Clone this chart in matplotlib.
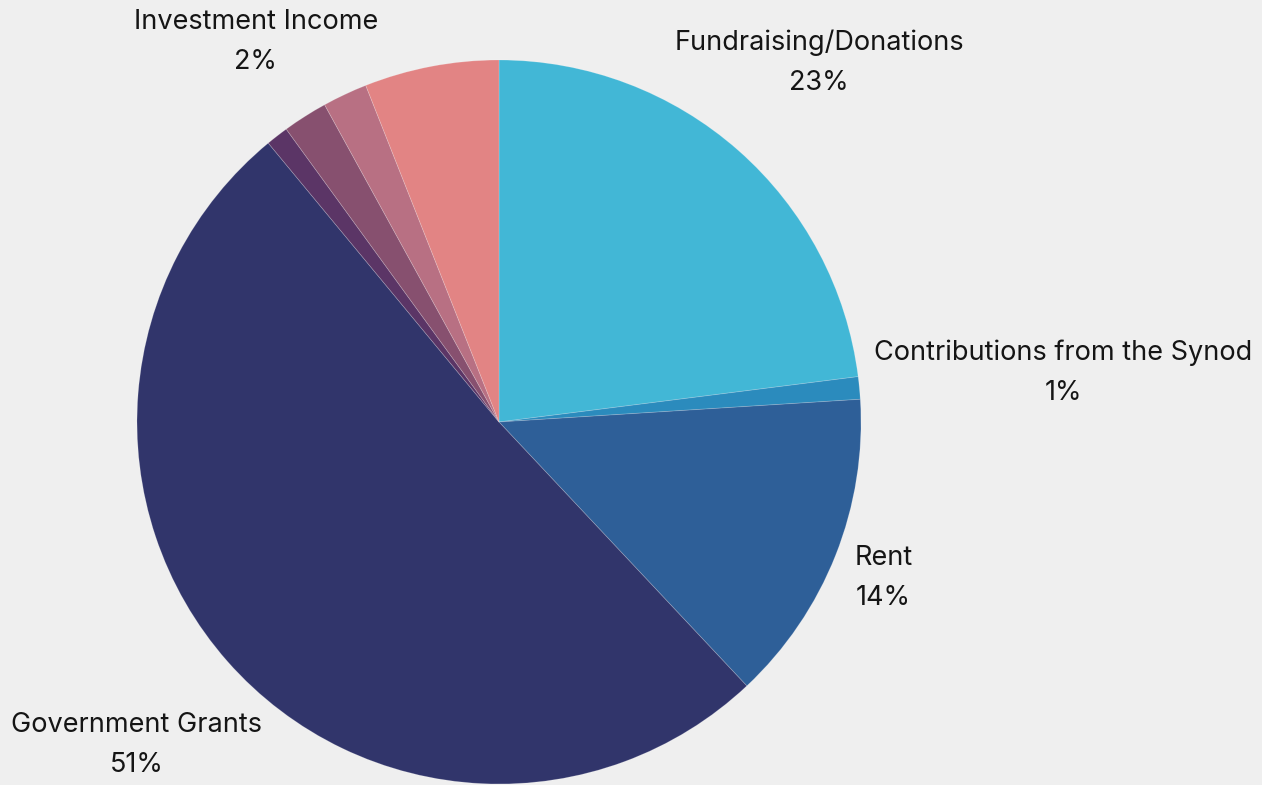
import matplotlib
matplotlib.use("Agg")
import matplotlib.pyplot as plt
import numpy as np

categories = ["Fundraising/Donations", "Contributions from the Synod", "Rent",
              "Government Grants", "Other Income", "Investment Income",
              "Sundry Income", "Program Fees"]
values = [23, 1, 14, 51, 1, 2, 2, 6]
show_label = [True, True, True, True, False, True, False, False]
colors = ["#42B7D6", "#2B8BBD", "#2E5F98", "#31356B", "#5B3566",
          "#87506F", "#B87083", "#E28484"]
label_radius = [1.337, 1.565, 1.142, 1.335, 1.3, 1.254, 1.3, 1.3]

plt.rcParams['font.family'] = ['Inter', 'DejaVu Sans']
fig = plt.figure(figsize=(12.62, 7.85), dpi=100)
fig.patch.set_facecolor("#EFEFEF")
ax = fig.add_axes([0, 0, 1, 1])
ax.set_facecolor("#EFEFEF")

wedges, _ = ax.pie(values, colors=colors, startangle=90, counterclock=False,
                   radius=1, center=(0, 0),
                   wedgeprops=dict(edgecolor=(1, 1, 1, 0.2), linewidth=0.6))

total = sum(values)
cum = 0
for v, name, show, r in zip(values, categories, show_label, label_radius):
    mid = (cum + v / 2) / total * 2 * np.pi
    cum += v
    if not show:
        continue
    x = r * np.sin(mid)
    y = r * np.cos(mid) - 0.01
    ax.text(x, y, f"{name}\n{round(v / total * 100)}%", ha="center", va="center",
            fontsize=19.5, color="#151515", linespacing=1.7)

ax.set_xlim(-499 / 362, (1262 - 499) / 362)
ax.set_ylim(-(785 - 422) / 362, 422 / 362)
ax.set_aspect("equal")
ax.axis("off")
fig.savefig("out.png", dpi=100, facecolor=fig.get_facecolor())
